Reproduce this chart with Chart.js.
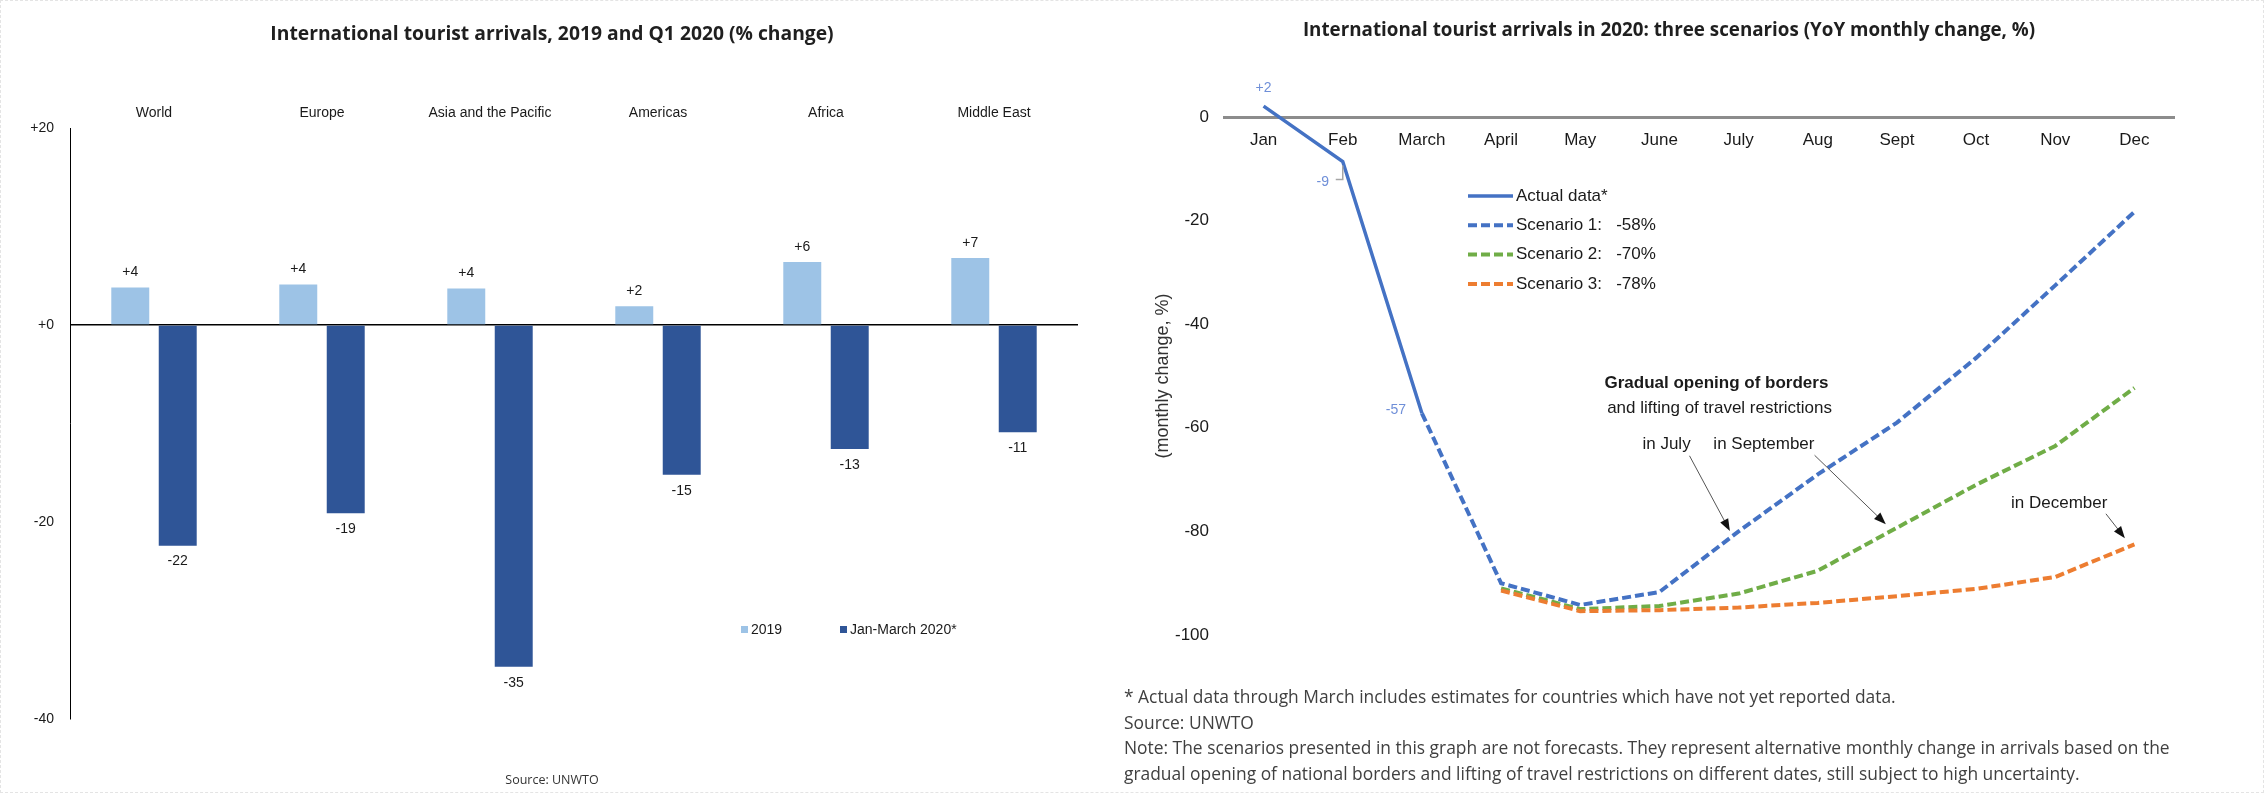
<!DOCTYPE html>
<html>
<head>
<meta charset="utf-8">
<title>International tourist arrivals</title>
<script src="https://cdn.jsdelivr.net/npm/chart.js@4.4.1/dist/chart.umd.min.js"></script>
<style>
  body { margin: 0; background: #fff; }
  #pagina { position: relative; width: 2264px; height: 793px; overflow: hidden; box-sizing: border-box; border: 1px dashed #e4e4e4; }
  .painel { position: absolute; top: 0; height: 793px; }
  .titulo { position: absolute; transform: translateX(-50%); white-space: nowrap; font-family: "Open Sans", sans-serif; font-weight: 700; line-height: 22px; color: #1f1f1f; }
  .fonte { position: absolute; transform: translateX(-50%); white-space: nowrap; font-family: "Open Sans", sans-serif; font-size: 12.5px; line-height: 16px; color: #333; }
  .notas { position: absolute; left: 1123px; top: 683px; font-family: "Open Sans", sans-serif; font-size: 17.4px; line-height: 25.5px; color: #404040; white-space: nowrap; }
</style>
</head>
<body>
<div id="pagina">
  <div class="painel" style="left:0; width:1130px;"><canvas id="graficoBarras"></canvas></div>
  <div class="painel" style="left:1130px; width:1134px;"><canvas id="graficoCenarios"></canvas></div>
  <div class="titulo" style="left:551px; top:21px; font-size:19.3px;">International tourist arrivals, 2019 and Q1 2020 (% change)</div>
  <div class="titulo" style="left:1668px; top:17px; font-size:18.8px;">International tourist arrivals in 2020: three scenarios (YoY monthly change, %)</div>
  <div class="fonte" style="left:551px; top:771px;">Source: UNWTO</div>
  <div class="notas">
    * Actual data through March includes estimates for countries which have not yet reported data.<br>
    Source: UNWTO<br>
    Note: The scenarios presented in this graph are not forecasts. They represent alternative monthly change in arrivals based on the<br>
    gradual opening of national borders and lifting of travel restrictions on different dates, still subject to high uncertainty.
  </div>
</div>
<script>
Chart.defaults.font.family = '"Liberation Sans", Arial, sans-serif';
Chart.defaults.animation = false;

// Dados - gráfico de barras (regiões)
var regioes = ['World', 'Europe', 'Asia and the Pacific', 'Americas', 'Africa', 'Middle East'];
var var2019 = [3.8, 4.1, 3.7, 1.9, 6.4, 6.8];
var varQ1 = [-22.4, -19.1, -34.7, -15.2, -12.6, -10.9];
var ticksBarras = [20, 0, -20, -40];

// Dados - gráfico de cenários (mensal)
var meses = ['Jan', 'Feb', 'March', 'April', 'May', 'June', 'July', 'Aug', 'Sept', 'Oct', 'Nov', 'Dec'];
var dadosReais = [2.1, -8.6, -57.2, null, null, null, null, null, null, null, null, null];
var cenario1 = [null, null, -57.2, -90.0, -94.2, -91.7, -80.0, -69.0, -59.0, -46.5, -32.5, -18.3];
var cenario2 = [null, null, null, -91.0, -95.0, -94.4, -92.0, -87.6, -79.3, -71.0, -63.5, -52.3];
var cenario3 = [null, null, null, -91.4, -95.4, -95.2, -94.7, -93.8, -92.5, -91.1, -88.8, -82.5];
var ticksLinhas = [0, -20, -40, -60, -80, -100];

var corTexto = '#1a1a1a';

// rótulos em cima / embaixo das barras
var rotulosBarras = {
    id: 'rotulosBarras',
    afterDatasetsDraw: function (chart) {
        var ctx = chart.ctx;
        ctx.save();
        ctx.font = '14px "Liberation Sans", Arial';
        ctx.fillStyle = corTexto;
        ctx.textAlign = 'center';
        ctx.textBaseline = 'middle';
        chart.data.datasets.forEach(function (ds, i) {
            chart.getDatasetMeta(i).data.forEach(function (barra, j) {
                var v = ds.data[j];
                var txt = (v > 0 ? '+' : '') + Math.round(v);
                ctx.fillText(txt, barra.x, v >= 0 ? barra.y - 15 : barra.y + 16);
            });
        });
        ctx.restore();
    }
};

// legenda do gráfico de barras (dentro da área)
var legendaBarras = {
    id: 'legendaBarras',
    afterDraw: function (chart) {
        var ctx = chart.ctx;
        var xs = [740, 839];
        var y = 629;
        ctx.save();
        ctx.font = '14px "Liberation Sans", Arial';
        ctx.textAlign = 'left';
        ctx.textBaseline = 'middle';
        chart.data.datasets.forEach(function (ds, i) {
            ctx.fillStyle = ds.backgroundColor;
            ctx.fillRect(xs[i], y - 4, 7, 7);
            ctx.fillStyle = corTexto;
            ctx.fillText(ds.label, xs[i] + 10, y);
        });
        ctx.restore();
    }
};

var ctxBarras = document.getElementById('graficoBarras').getContext('2d');
new Chart(ctxBarras, {
    type: 'bar',
    data: {
        labels: regioes,
        datasets: [
            {
                label: '2019',
                data: var2019,
                backgroundColor: '#9DC3E6',
                categoryPercentage: 0.565,
                barPercentage: 0.8
            },
            {
                label: 'Jan-March 2020*',
                data: varQ1,
                backgroundColor: '#2F5597',
                categoryPercentage: 0.565,
                barPercentage: 0.8
            }
        ]
    },
    options: {
        responsive: true,
        maintainAspectRatio: false,
        layout: { padding: { top: 97, left: 0, right: 53, bottom: 75 } },
        plugins: { legend: { display: false }, tooltip: { enabled: false } },
        scales: {
            x: {
                position: 'top',
                grid: { display: false, drawTicks: false },
                border: { display: false },
                ticks: { padding: 6, color: corTexto, font: { size: 14 } },
                afterFit: function (s) { s.height = 30; }
            },
            y: {
                min: -40,
                max: 20,
                afterBuildTicks: function (s) {
                    s.ticks = ticksBarras.map(function (v) { return { value: v }; });
                },
                ticks: {
                    padding: 16,
                    color: corTexto,
                    font: { size: 14 },
                    callback: function (v) { return v >= 0 ? '+' + v : String(v); }
                },
                grid: {
                    drawTicks: false,
                    lineWidth: 1.5,
                    color: function (c) { return c.tick && c.tick.value === 0 ? '#000' : 'rgba(0,0,0,0)'; }
                },
                border: { display: true, color: '#000', width: 1 },
                afterFit: function (s) { s.width = 69; }
            }
        }
    },
    plugins: [rotulosBarras, legendaBarras]
});

// legenda do gráfico de cenários
var legendaCenarios = {
    id: 'legendaCenarios',
    afterDraw: function (chart) {
        var ctx = chart.ctx;
        var x0 = 337, y0 = 195, passo = 29.3, comp = 45;
        ctx.save();
        ctx.font = '17px "Liberation Sans", Arial';
        ctx.textAlign = 'left';
        ctx.textBaseline = 'middle';
        chart.data.datasets.forEach(function (ds, i) {
            var y = y0 + i * passo;
            ctx.strokeStyle = ds.borderColor;
            ctx.lineWidth = ds.borderWidth;
            ctx.setLineDash(ds.borderDash || []);
            ctx.beginPath();
            ctx.moveTo(x0, y);
            ctx.lineTo(x0 + comp, y);
            ctx.stroke();
            ctx.setLineDash([]);
            ctx.fillStyle = corTexto;
            ctx.fillText(ds.label, x0 + comp + 3, y);
        });
        ctx.restore();
    }
};

// rótulos dos dados reais (Jan, Feb, March)
var rotulosReais = {
    id: 'rotulosReais',
    afterDatasetsDraw: function (chart) {
        var ctx = chart.ctx;
        var pts = chart.getDatasetMeta(0).data;
        var desloc = [[0, -18], [-20, 21], [-26, -3]];
        ctx.save();
        // linha-guia do rótulo de fevereiro
        ctx.strokeStyle = '#a6a6a6';
        ctx.lineWidth = 1.5;
        ctx.beginPath();
        ctx.moveTo(pts[1].x, pts[1].y + 4);
        ctx.lineTo(pts[1].x, pts[1].y + 18);
        ctx.lineTo(pts[1].x - 7, pts[1].y + 18);
        ctx.stroke();
        ctx.font = '14px "Liberation Sans", Arial';
        ctx.fillStyle = '#6F8FD8';
        ctx.textAlign = 'center';
        ctx.textBaseline = 'middle';
        desloc.forEach(function (d, i) {
            var v = dadosReais[i];
            ctx.fillText((v > 0 ? '+' : '') + Math.round(v), pts[i].x + d[0], pts[i].y + d[1]);
        });
        ctx.restore();
    }
};

// textos e setas explicativas
var anotacoes = {
    id: 'anotacoes',
    afterDraw: function (chart) {
        var ctx = chart.ctx;
        var sx = chart.scales.x, sy = chart.scales.y;
        var textos = [
            { t: 'Gradual opening of borders', x: 5.72, y: -51.5, negrito: true },
            { t: 'and lifting of travel restrictions', x: 5.76, y: -56.2 },
            { t: 'in July', x: 5.09, y: -63.1 },
            { t: 'in September', x: 6.32, y: -63.1 },
            { t: 'in December', x: 10.05, y: -74.5 }
        ];
        var setas = [
            [5.38, -65.4, 5.89, -79.9],
            [6.96, -65.3, 7.86, -78.6],
            [10.64, -76.6, 10.88, -81.3]
        ];
        ctx.save();
        ctx.textAlign = 'center';
        ctx.textBaseline = 'middle';
        ctx.fillStyle = corTexto;
        textos.forEach(function (a) {
            ctx.font = (a.negrito ? 'bold ' : '') + '17px "Liberation Sans", Arial';
            ctx.fillText(a.t, sx.getPixelForValue(a.x), sy.getPixelForValue(a.y));
        });
        setas.forEach(function (s) {
            var x1 = sx.getPixelForValue(s[0]), y1 = sy.getPixelForValue(s[1]);
            var x2 = sx.getPixelForValue(s[2]), y2 = sy.getPixelForValue(s[3]);
            var ang = Math.atan2(y2 - y1, x2 - x1);
            ctx.strokeStyle = '#555';
            ctx.lineWidth = 1;
            ctx.beginPath();
            ctx.moveTo(x1, y1);
            ctx.lineTo(x2 - 8 * Math.cos(ang), y2 - 8 * Math.sin(ang));
            ctx.stroke();
            ctx.fillStyle = '#111';
            ctx.beginPath();
            ctx.moveTo(x2, y2);
            ctx.lineTo(x2 - 12 * Math.cos(ang) + 4.5 * Math.sin(ang), y2 - 12 * Math.sin(ang) - 4.5 * Math.cos(ang));
            ctx.lineTo(x2 - 12 * Math.cos(ang) - 4.5 * Math.sin(ang), y2 - 12 * Math.sin(ang) + 4.5 * Math.cos(ang));
            ctx.closePath();
            ctx.fill();
        });
        ctx.restore();
    }
};

var ctxCenarios = document.getElementById('graficoCenarios').getContext('2d');
new Chart(ctxCenarios, {
    type: 'line',
    data: {
        labels: meses,
        datasets: [
            {
                label: 'Actual data*',
                data: dadosReais,
                borderColor: '#4472C4',
                borderWidth: 3.5,
                pointRadius: 0,
                clip: false,
                order: 0
            },
            {
                label: 'Scenario 1:   -58%',
                data: cenario1,
                borderColor: '#4472C4',
                borderWidth: 4,
                borderDash: [9, 4],
                pointRadius: 0,
                clip: false,
                order: 3
            },
            {
                label: 'Scenario 2:   -70%',
                data: cenario2,
                borderColor: '#70AD47',
                borderWidth: 4,
                borderDash: [9, 4],
                pointRadius: 0,
                clip: false,
                order: 2
            },
            {
                label: 'Scenario 3:   -78%',
                data: cenario3,
                borderColor: '#ED7D31',
                borderWidth: 4,
                borderDash: [9, 4],
                pointRadius: 0,
                clip: false,
                order: 1
            }
        ]
    },
    options: {
        responsive: true,
        maintainAspectRatio: false,
        layout: { padding: { top: 116, left: 0, right: 91, bottom: 159 } },
        plugins: { legend: { display: false }, tooltip: { enabled: false } },
        scales: {
            x: {
                position: { y: 0 },
                offset: true,
                grid: { display: false, drawTicks: false },
                border: { display: true, color: '#8c8c8c', width: 3 },
                ticks: { padding: 13, color: corTexto, font: { size: 17 } },
                afterFit: function (s) { s.height = 0; }
            },
            y: {
                min: -100,
                max: 0,
                afterBuildTicks: function (s) {
                    s.ticks = ticksLinhas.map(function (v) { return { value: v }; });
                },
                ticks: { padding: 15, color: corTexto, font: { size: 17 } },
                grid: { display: false, drawTicks: false },
                border: { display: false },
                title: {
                    display: true,
                    text: '(monthly change, %)',
                    color: '#333',
                    font: { size: 18 },
                    align: 'center',
                    padding: { top: 21, bottom: 0 }
                },
                afterFit: function (s) { s.width = 93; }
            }
        }
    },
    plugins: [legendaCenarios, rotulosReais, anotacoes]
});
</script>
</body>
</html>
